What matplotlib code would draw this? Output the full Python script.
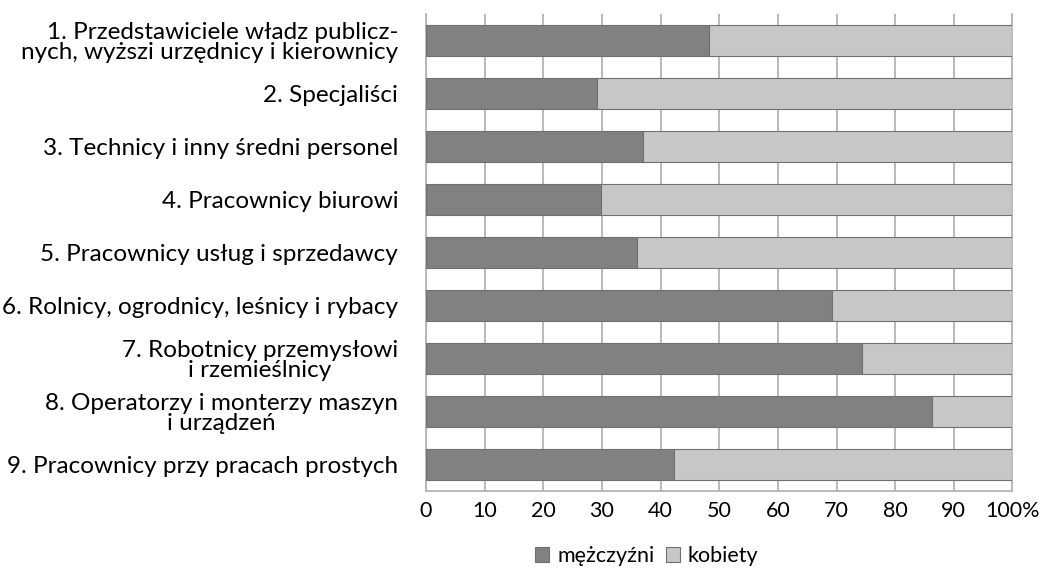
import numpy as np
import matplotlib.pyplot as plt

plt.rcParams['font.family'] = ['Lato', 'DejaVu Sans']

kategorie = [
    "1. Przedstawiciele władz publicz-\nnych, wyższi urzędnicy i kierownicy",
    "2. Specjaliści",
    "3. Technicy i inny średni personel",
    "4. Pracownicy biurowi",
    "5. Pracownicy usług i sprzedawcy",
    "6. Rolnicy, ogrodnicy, leśnicy i rybacy",
    "7. Robotnicy przemysłowi\ni rzemieślnicy",
    "8. Operatorzy i monterzy maszyn\ni urządzeń",
    "9. Pracownicy przy pracach prostych",
]
mezczyzni = [48.2, 29.1, 37.0, 29.8, 35.9, 69.3, 74.4, 86.2, 42.3]
kobiety = [100 - m for m in mezczyzni]
xticks = [0, 10, 20, 30, 40, 50, 60, 70, 80, 90, 100]
xlabels = ["0", "10", "20", "30", "40", "50", "60", "70", "80", "90", "100%"]

c_dark = "#808183"
c_light = "#c6c7c9"
c_edge = "#707072"
fs = 17.5
fs_small = 15.5

fig = plt.figure(figsize=(10.4, 5.74), dpi=100)
ax = fig.add_axes([0.4096, 0.1446, 0.9735 - 0.4096, 0.9756 - 0.1446])

y = np.arange(len(kategorie))
ax.barh(y, mezczyzni, height=0.57, color=c_dark, edgecolor=c_edge,
        linewidth=0.8, label="mężczyźni", zorder=3)
ax.barh(y, kobiety, left=mezczyzni, height=0.57, color=c_light,
        edgecolor=c_edge, linewidth=0.8, label="kobiety", zorder=3)

ax.set_xlim(0, 100)
ax.set_ylim(len(kategorie) - 0.5, -0.5)
ax.set_xticks(xticks)
ax.set_xticklabels(xlabels, fontsize=fs_small)
ax.set_yticks(y)
ax.set_yticklabels(kategorie, fontsize=fs, linespacing=0.97)
for i, lab in enumerate(ax.get_yticklabels()):
    lab.set_multialignment('center' if i in (6, 7) else 'right')

ax.tick_params(axis='both', length=0, colors='black')
ax.tick_params(axis='y', pad=20)
ax.tick_params(axis='x', pad=7)
ax.grid(axis='x', color='#b4b4b4', linewidth=1.3, zorder=0)
ax.spines['top'].set_visible(False)
for s in ['left', 'bottom', 'right']:
    ax.spines[s].set_color('#b4b4b4')
    ax.spines[s].set_linewidth(1.3)

fig.legend(loc='center', bbox_to_anchor=(0.622, 0.031), ncol=2, frameon=False,
           fontsize=fs_small, handlelength=0.65, handleheight=0.65,
           handletextpad=0.35, columnspacing=0.55)

fig.savefig("out.png", dpi=100)
